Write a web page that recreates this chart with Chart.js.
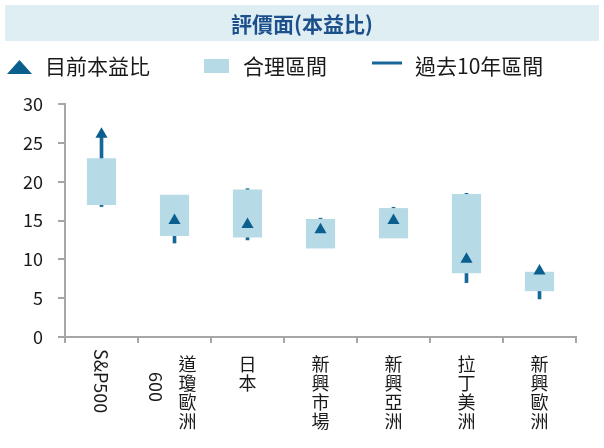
<!DOCTYPE html>
<html>
<head>
<meta charset="utf-8">
<script src="https://cdn.jsdelivr.net/npm/chart.js@4.4.1/dist/chart.umd.min.js"></script>
<style>
html, body { margin: 0; padding: 0; background: #fff; }
</style>
</head>
<body>
<canvas id="myChart" width="604" height="448"></canvas>
<script>
// categories and values
const categories = ['S&P500', '道瓊歐洲600', '日本', '新興市場', '新興亞洲', '拉丁美洲', '新興歐洲'];
const fairLow = [17.0, 13.0, 12.8, 11.4, 12.7, 8.2, 5.9];
const fairHigh = [23.0, 18.3, 19.0, 15.2, 16.6, 18.4, 8.4];
const histLow = [16.8, 12.1, 12.5, 11.6, 12.9, 7.0, 4.9];
const histHigh = [25.8, 17.8, 19.1, 15.3, 16.7, 18.5, 8.2];
const currentPE = [26.1, 15.0, 14.5, 13.8, 15.0, 10.0, 8.5];
const yTicks = [0, 5, 10, 15, 20, 25, 30];

const titleText = '評價面(本益比)';
const legendNames = ['目前本益比', '合理區間', '過去10年區間'];

const darkBlue = '#0b5f8f';
const lineBlue = '#17679a';
const boxBlue = '#b7dbe6';
const textColor = '#1a1a1a';
const fontFamily = "'Noto Sans CJK TC', 'Noto Sans', sans-serif";

Chart.defaults.font.family = fontFamily;
Chart.defaults.color = textColor;

var ctx = document.getElementById('myChart').getContext('2d');

// title with its light banner, centred on the whole picture
const bannerPlugin = {
    id: 'banner',
    beforeDraw(chart) {
        const c = chart.ctx;
        c.save();
        c.fillStyle = '#deeef3';
        c.fillRect(5, 5, 594, 36);
        c.fillStyle = '#1c4f8c';
        c.font = 'bold 21px ' + fontFamily;
        c.textAlign = 'center';
        c.textBaseline = 'middle';
        c.fillText(titleText, 302, 24);
        c.restore();
    }
};

// legend drawn by hand so the item spacing matches
const legendPlugin = {
    id: 'customLegend',
    afterDraw(chart) {
        const c = chart.ctx;
        const y = 66;
        c.save();
        // flat triangle
        c.fillStyle = darkBlue;
        c.beginPath();
        c.moveTo(7, 74);
        c.lineTo(19.5, 60);
        c.lineTo(32, 74);
        c.closePath();
        c.fill();
        // box
        c.fillStyle = boxBlue;
        c.fillRect(204, 59, 25, 14);
        // line
        c.strokeStyle = lineBlue;
        c.lineWidth = 3;
        c.beginPath();
        c.moveTo(372, 63);
        c.lineTo(402, 63);
        c.stroke();

        c.fillStyle = textColor;
        c.font = '21px ' + fontFamily;
        c.textBaseline = 'middle';
        c.textAlign = 'left';
        c.fillText(legendNames[0], 45, y);
        c.fillText(legendNames[1], 243, y);
        c.fillText(legendNames[2], 415, y);
        c.restore();
    }
};

// vertical category labels: CJK upright, latin rotated
const xLabelPlugin = {
    id: 'xLabels',
    afterDraw(chart) {
        const c = chart.ctx;
        const xs = chart.scales.x;
        const bottom = chart.chartArea.bottom;
        const step = 19;
        c.save();
        c.fillStyle = textColor;
        c.font = '18px ' + fontFamily;
        categories.forEach((lab, i) => {
            const cx = xs.getPixelForValue(i);
            const cjk = lab.replace(/[\x00-\x7f]/g, '');
            const latin = lab.replace(/[^\x00-\x7f]/g, '');
            let cjkX = cx;
            let latinX = cx;
            if (cjk && latin) {
                cjkX = cx + 13;
                latinX = cx - 18;
            }
            c.textAlign = 'center';
            c.textBaseline = 'middle';
            for (let k = 0; k < cjk.length; k++) {
                c.fillText(cjk[k], cjkX, bottom + 27 + k * step);
            }
            if (latin) {
                const w = c.measureText(latin).width;
                let startY = bottom + 12;
                if (cjk) {
                    startY = bottom + 50 - w / 2;
                }
                c.save();
                c.translate(latinX, startY);
                c.rotate(Math.PI / 2);
                c.textAlign = 'left';
                c.fillText(latin, 0, 1);
                c.restore();
            }
        });
        c.restore();
    }
};

const data = {
    labels: categories,
    datasets: [
        {
            type: 'line',
            label: legendNames[0],
            data: currentPE,
            showLine: false,
            pointStyle: 'triangle',
            pointRadius: 7,
            pointHoverRadius: 7,
            pointBackgroundColor: darkBlue,
            pointBorderColor: darkBlue,
            pointBorderWidth: 0,
            order: 0
        },
        {
            type: 'bar',
            label: legendNames[1],
            data: fairLow.map((v, i) => [v, fairHigh[i]]),
            backgroundColor: boxBlue,
            borderWidth: 0,
            barPercentage: 0.4,
            categoryPercentage: 1,
            grouped: false,
            order: 1
        },
        {
            type: 'bar',
            label: legendNames[2],
            data: histLow.map((v, i) => [v, histHigh[i]]),
            backgroundColor: lineBlue,
            borderWidth: 0,
            barThickness: 3,
            grouped: false,
            order: 2
        }
    ]
};

const scales = {
    x: {
        offset: true,
        grid: {
            offset: true,
            drawOnChartArea: false,
            tickLength: 6,
            color: '#a6a6a6',
            lineWidth: 2
        },
        border: { color: '#a6a6a6', width: 2 },
        ticks: { display: false }
    },
    y: {
        min: 0,
        max: 30,
        afterBuildTicks: (scale) => {
            scale.ticks = yTicks.map(v => ({ value: v }));
        },
        afterFit: (scale) => {
            scale.width = 65;
        },
        grid: {
            drawOnChartArea: false,
            tickLength: 7,
            color: '#a6a6a6',
            lineWidth: 2
        },
        border: { color: '#a6a6a6', width: 2 },
        ticks: {
            padding: 15,
            color: textColor,
            font: { size: 18 }
        }
    }
};

var myChart = new Chart(ctx, {
    type: 'bar',
    data: data,
    options: {
        responsive: false,
        animation: false,
        devicePixelRatio: 1,
        layout: { padding: { top: 104, left: 0, right: 28, bottom: 105 } },
        scales: scales,
        plugins: {
            legend: { display: false },
            tooltip: { enabled: false },
            title: { display: false }
        }
    },
    plugins: [bannerPlugin, legendPlugin, xLabelPlugin]
});
</script>
</body>
</html>
